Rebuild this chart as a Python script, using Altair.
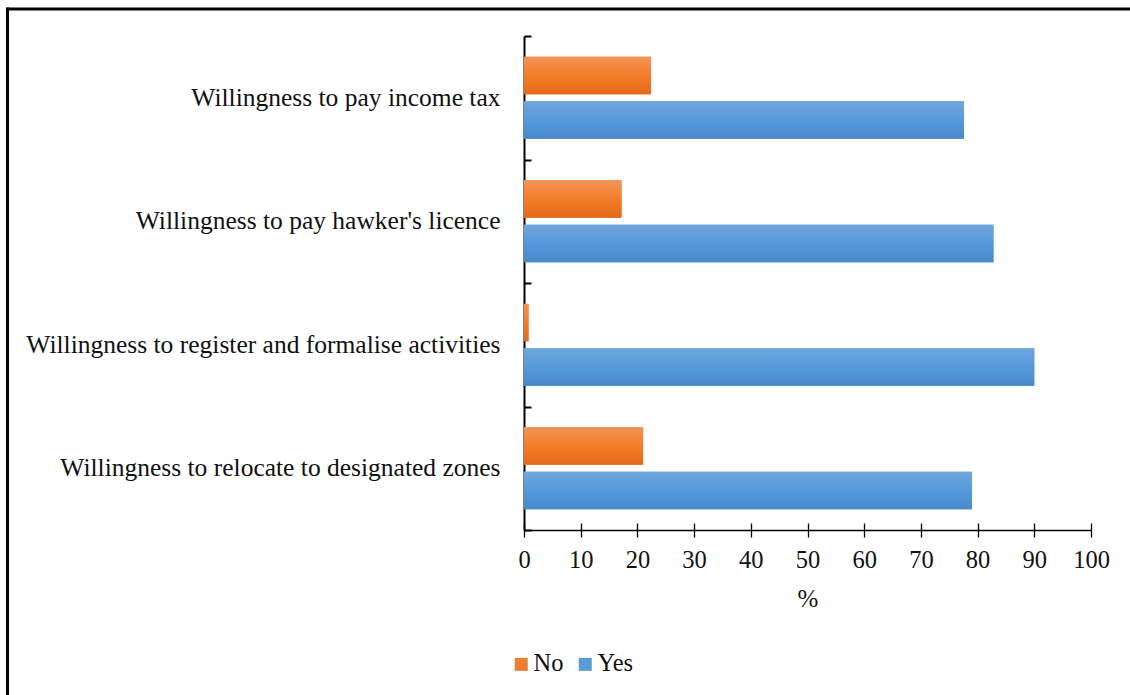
import altair as alt
import pandas as pd

categories = [
    "Willingness to pay income tax",
    "Willingness to pay hawker's licence",
    "Willingness to register and formalise activities",
    "Willingness to relocate to designated zones",
]
no_values = [22.4, 17.2, 0.8, 21.0]
yes_values = [77.6, 82.8, 90.0, 79.0]
series = ["No", "Yes"]
colors = ["#ED7D31", "#5B9BD5"]
x_ticks = list(range(0, 101, 10))

rows = []
for c, n, y in zip(categories, no_values, yes_values):
    rows.append({"Item": c, "Response": "No", "Percent": n})
    rows.append({"Item": c, "Response": "Yes", "Percent": y})
df = pd.DataFrame(rows)

FONT = "Liberation Serif"
W, H = 567, 494

x_scale = alt.Scale(domain=[0, 100], nice=False, zero=True)
y_scale = alt.Scale(domain=categories, paddingInner=0.338, paddingOuter=0.169)
y_tick_scale = alt.Scale(domain=categories, paddingInner=0, paddingOuter=0)
yoff_scale = alt.Scale(domain=series, paddingInner=0.16, paddingOuter=0)

base = alt.Chart(df)

main = base.mark_bar().encode(
    x=alt.X(
        "Percent:Q",
        scale=x_scale,
        axis=alt.Axis(
            orient="bottom", values=x_ticks, title="%", tickSize=7, tickColor="#000",
            tickWidth=1.3, domainColor="#000", domainWidth=1.5, labelPadding=11,
            labelFlush=False, labelOverlap=False,
            labelFont=FONT, labelFontSize=24.5, labelColor="#111", titleFont=FONT,
            titleFontSize=25, titleFontWeight="normal", titleColor="#111",
            titlePadding=15, grid=False,
        ),
    ),
    y=alt.Y(
        "Item:N",
        scale=y_scale,
        sort=categories,
        axis=alt.Axis(
            orient="left", title=None, ticks=False, tickSize=0, labelPadding=24,
            labelFont=FONT, labelFontSize=25.5, labelColor="#111", labelLimit=700,
            domainColor="#000", domainWidth=2, grid=False,
        ),
    ),
    yOffset=alt.YOffset("Response:N", scale=yoff_scale, sort=series),
    color=alt.Color(
        "Response:N",
        scale=alt.Scale(domain=series, range=colors),
        legend=alt.Legend(
            orient="none", legendX=-15, legendY=616, direction="horizontal",
            title=None, symbolType="square", symbolSize=169, symbolStrokeWidth=0,
            labelFont=FONT, labelFontSize=24.5, labelColor="#111", labelOffset=0,
            columnPadding=9,
        ),
    ),
)

grad_no = alt.Gradient(
    gradient="linear", x1=0, y1=0, x2=0, y2=1,
    stops=[alt.GradientStop(color="#F4945A", offset=0),
           alt.GradientStop(color="#F27D28", offset=0.5),
           alt.GradientStop(color="#E56A1B", offset=1)],
)
grad_yes = alt.Gradient(
    gradient="linear", x1=0, y1=0, x2=0, y2=1,
    stops=[alt.GradientStop(color="#6FA6DC", offset=0),
           alt.GradientStop(color="#569ADC", offset=0.5),
           alt.GradientStop(color="#4888C8", offset=1)],
)


def overlay(resp, fill):
    return base.transform_filter(alt.datum.Response == resp).mark_bar(fill=fill).encode(
        x=alt.X("Percent:Q", scale=x_scale, axis=None),
        y=alt.Y("Item:N", scale=y_scale, sort=categories, axis=None),
        yOffset=alt.YOffset("Response:N", scale=yoff_scale, sort=series),
    )


ticks_layer = base.mark_bar(opacity=0).encode(
    x=alt.X(
        "Percent:Q", scale=x_scale,
        axis=alt.Axis(orient="top", offset=-H, values=x_ticks, labels=False,
                      domain=False, tickSize=7, tickColor="#000", tickWidth=1.3,
                      title=None, grid=False),
    ),
    y=alt.Y(
        "Item:N", scale=y_tick_scale, sort=categories,
        axis=alt.Axis(orient="right", offset=-W, labels=False, domain=False,
                      tickBand="extent", tickSize=7, tickColor="#000",
                      tickWidth=2, title=None, grid=False),
    ),
)

frame_df = pd.DataFrame({"k": [0]})
frame_top = alt.Chart(frame_df).mark_rule(color="#000", strokeWidth=3).encode(
    x=alt.value(-517), x2=alt.value(620), y=alt.value(-27)
)
frame_left = alt.Chart(frame_df).mark_rule(color="#000", strokeWidth=3).encode(
    x=alt.value(-516.5), y=alt.value(-28.5), y2=alt.value(700)
)

chart = (
    alt.layer(main, overlay("No", grad_no), overlay("Yes", grad_yes), ticks_layer,
              frame_top, frame_left)
    .resolve_scale(y="independent")
    .resolve_axis(x="independent", y="independent")
    .properties(
        width=W, height=H,
        autosize=alt.AutoSizeParams(type="none"),
        padding={"left": 524, "top": 36, "right": 1130 - 524 - W, "bottom": 695 - 36 - H},
        background="white",
    )
    .configure_view(stroke=None)
)

chart.save("out.html", embed_options={"renderer": "svg", "actions": False})
